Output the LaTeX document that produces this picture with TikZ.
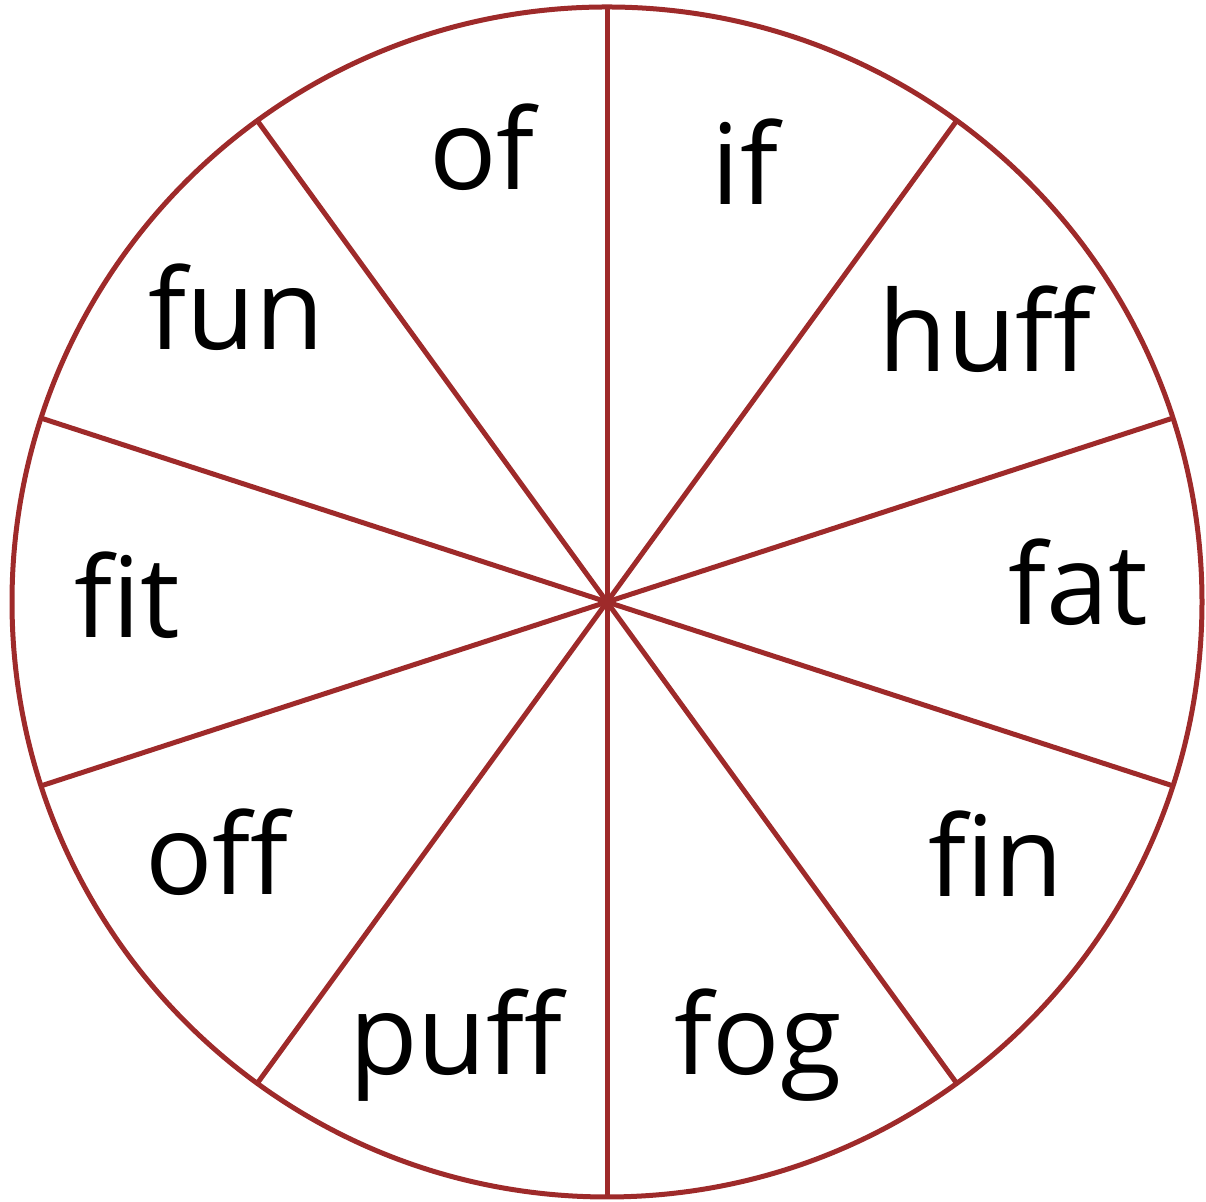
\documentclass[tikz,border=0pt]{standalone}
\usepackage{fontspec}
\setmainfont{Open Sans}
\usetikzlibrary{calc}
\definecolor{wheelred}{RGB}{158,42,42}
\begin{document}
\begin{tikzpicture}[x=0.5pt,y=0.5pt,
  rim/.style={draw=wheelred,line width=2.5pt},
  spoke/.style={draw=wheelred,line width=2.5pt},
  word/.style={anchor=base,inner sep=0pt,font=\fontsize{56}{60}\selectfont}]
\useasboundingbox (0,0) rectangle (1206,1202);
\coordinate (c) at (607,600);
\draw[rim] (c) circle (595);
\foreach \k in {0,...,9}{
  \coordinate (p\k) at ($(c)+({90+36*\k}:595)$);
  \draw[spoke] (c) -- (p\k);
}
\node[word] (w1) at (482,1012) {of};
\node[word] (w2) at (745,997) {if};
\node[word] (w3) at (985,830) {huff};
\node[word] (w4) at (1078,577) {fat};
\node[word] (w5) at (996,305) {fin};
\node[word] (w6) at (758,127) {fog};
\node[word] (w7) at (456,127) {puff};
\node[word] (w8) at (217,307) {off};
\node[word] (w9) at (127,564) {fit};
\node[word] (w10) at (236,852) {fun};
\end{tikzpicture}
\end{document}
